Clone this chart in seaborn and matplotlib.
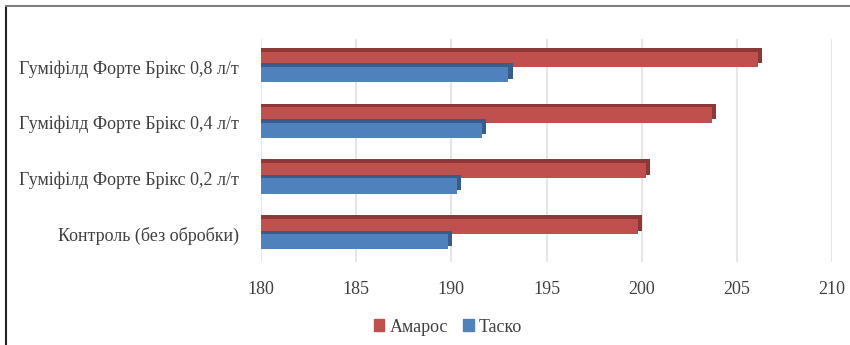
import matplotlib
matplotlib.use("Agg")
import matplotlib.pyplot as plt
import matplotlib.patheffects as pe
from matplotlib.lines import Line2D
import seaborn as sns
import pandas as pd

# Дані, зчитані з діаграми
varianty = ['Гуміфілд Форте Брікс 0,8 л/т',
            'Гуміфілд Форте Брікс 0,4 л/т',
            'Гуміфілд Форте Брікс 0,2 л/т',
            'Контроль (без обробки)']
amaros = [206.1, 203.7, 200.2, 199.8]
tasko = [193.0, 191.6, 190.3, 189.8]
sorty = ['Амарос', 'Таско']
kolory = {'Амарос': '#C0504D', 'Таско': '#4F81BD'}
tini = {'Амарос': '#8C3836', 'Таско': '#385D8A'}

df = pd.DataFrame({
    'variant': varianty * 2,
    'sort': ['Амарос'] * 4 + ['Таско'] * 4,
    'value': amaros + tasko,
})

sns.set_style('white')
plt.rcParams['font.family'] = ['Liberation Serif', 'DejaVu Serif']

fig = plt.figure(figsize=(8.5, 3.45), dpi=100)
ax = fig.add_axes([0.307, 0.2406, 0.672, 0.646])

sns.barplot(data=df, y='variant', x='value', hue='sort', order=varianty,
            hue_order=sorty, palette=kolory, width=0.55, orient='h',
            saturation=1, linewidth=0, ax=ax, legend=False)

# імітація об'єму стовпців (як у 3D-діаграмі Excel)
for cont, s in zip(ax.containers, sorty):
    for bar in cont:
        bar.set_path_effects([
            pe.SimplePatchShadow(offset=(3.0, 2.6), shadow_rgbFace=tini[s], alpha=1),
            pe.Normal(),
        ])
        bar.set_zorder(3)

ax.set_xlim(180, 210)
ax.set_xticks(range(180, 211, 5))
ax.grid(axis='x', color='#E6E6E6', linewidth=1.5)
ax.set_axisbelow(True)
for sp in ax.spines.values():
    sp.set_visible(False)
ax.tick_params(axis='x', length=0, pad=14, labelsize=13, labelcolor='#404040')
ax.tick_params(axis='y', length=0, pad=16, labelsize=13, labelcolor='#404040')
ax.set_xlabel('')
ax.set_ylabel('')

handles = [plt.Rectangle((0, 0), 1, 1, color=kolory[s]) for s in sorty]
fig.legend(handles, sorty, loc='center', bbox_to_anchor=(0.527, 0.052), ncol=2,
           frameon=False, fontsize=13, handlelength=0.6, handleheight=0.6,
           handletextpad=0.3, columnspacing=0.8, labelcolor='#404040')

# рамка діаграми
fig.add_artist(Line2D([0.0075, 0.0075], [0, 0.982], transform=fig.transFigure,
                      color='#202020', linewidth=1.5))
fig.add_artist(Line2D([0.0075, 1], [0.982, 0.982], transform=fig.transFigure,
                      color='#808080', linewidth=1.5))

fig.savefig('out.png', dpi=100)
